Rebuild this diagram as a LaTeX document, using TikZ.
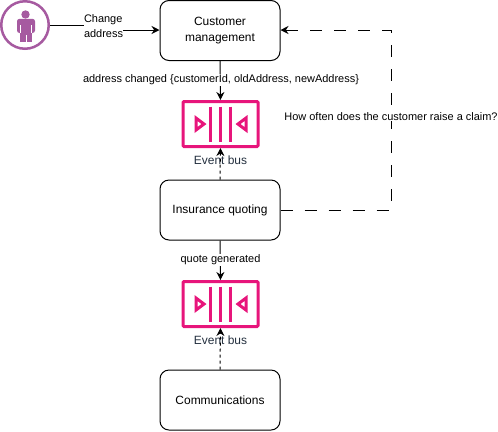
\documentclass[tikz,border=0pt]{standalone}
\usepackage{fontspec}
\setmainfont{Liberation Sans}
\usetikzlibrary{arrows.meta,calc}
\definecolor{pinkbus}{HTML}{E7157B}
\definecolor{actorp}{HTML}{A65AA0}
\definecolor{slatetxt}{HTML}{232F3E}
\tikzset{
  x=1bp,y=-1bp,
  boxnode/.style={draw=black,rounded corners=9bp,minimum width=120bp,minimum height=60bp,align=center,font=\fontsize{12}{15.5}\selectfont,line width=1bp,inner sep=0pt},
  lab/.style={font=\fontsize{11}{14.5}\selectfont,fill=white,inner sep=0.5pt,align=left},
  conn/.style={line width=1bp,-{Stealth[length=8bp,width=8bp]}},
  dashconn/.style={conn,dash pattern=on 3bp off 3bp},
  longdash/.style={conn,dash pattern=on 12bp off 12bp},
  buspart/.style={draw=pinkbus,line width=3bp},
  bus/.style={draw=pinkbus,line width=3bp,rounded corners=1bp,minimum width=75bp,minimum height=45bp,inner sep=0pt},
  buslabel/.style={font=\fontsize{12}{14}\selectfont,text=slatetxt,inner sep=0pt}
}
\newcommand{\busicon}[1]{%
  \draw[buspart] ($(#1)+(-10,-17.5)$) -- ++(0,35);
  \draw[buspart] ($(#1)+(0,-17.5)$) -- ++(0,35);
  \draw[buspart] ($(#1)+(10,-17.5)$) -- ++(0,35);
  \draw[buspart,line join=miter] ($(#1)+(-24.5,-6)$) -- ++(0,12) -- ++(8,-6) -- cycle;
  \draw[buspart,line join=miter] ($(#1)+(25.5,-6)$) -- ++(0,12) -- ++(-8,-6) -- cycle;
}
\begin{document}
\begin{tikzpicture}
\useasboundingbox (0,0) rectangle (498,431);
\node[boxnode] (cm) at (220,30.5) {Customer\\management};
\node[boxnode] (iq) at (220,210) {Insurance quoting};
\node[boxnode] (co) at (220,400) {Communications};
\node[bus] (b1) at (220.5,124) {};
\node[bus] (b2) at (220.5,304) {};
\busicon{b1}
\busicon{b2}
\node[buslabel] (b1l) at (220.5,160.5) {Event bus};
\node[buslabel] (b2l) at (220.5,340.5) {Event bus};
% actor
\node[draw=actorp,line width=2.5bp,circle,minimum size=47.5bp,inner sep=0pt] (ac) at (25,25) {};
\fill[actorp] (25.5,14.5) circle (4.2bp);
\fill[actorp,rounded corners=2.5bp] (17,18.8) rectangle (35,33);
\fill[actorp] (20,30) rectangle (32,42);
\draw[white,line width=0.5bp] (20.5,25) -- (20.5,33) (31.5,25) -- (31.5,33) (26,35) -- (26,42);
% connectors
\coordinate (cor) at (391,30);
\coordinate (cor2) at (391,210);
\draw[line width=1bp] (ac.east) -- (105,25) -- (105,30);
\draw[conn] (105,30) -- (cm.west |- 0,30);
\node[lab] (l1) at (103.5,26) {Change\\address};
\draw[conn] (cm.south) -- (b1.north);
\node[lab] (l2) at (221,80) {address changed \{customerId, oldAddress, newAddress\}};
\draw[dashconn] (iq.north) -- (b1.south);
\draw[conn] (iq.south) -- (b2.north);
\node[lab] (l3) at (220.5,260) {quote generated};
\draw[dashconn] (co.north) -- (b2.south);
\draw[longdash] (iq.east) -- (cor2) -- (cor) -- (cm.east |- cor);
\node[lab] (l4) at (391,116.5) {How often does the customer raise a claim?};
\end{tikzpicture}
\end{document}
